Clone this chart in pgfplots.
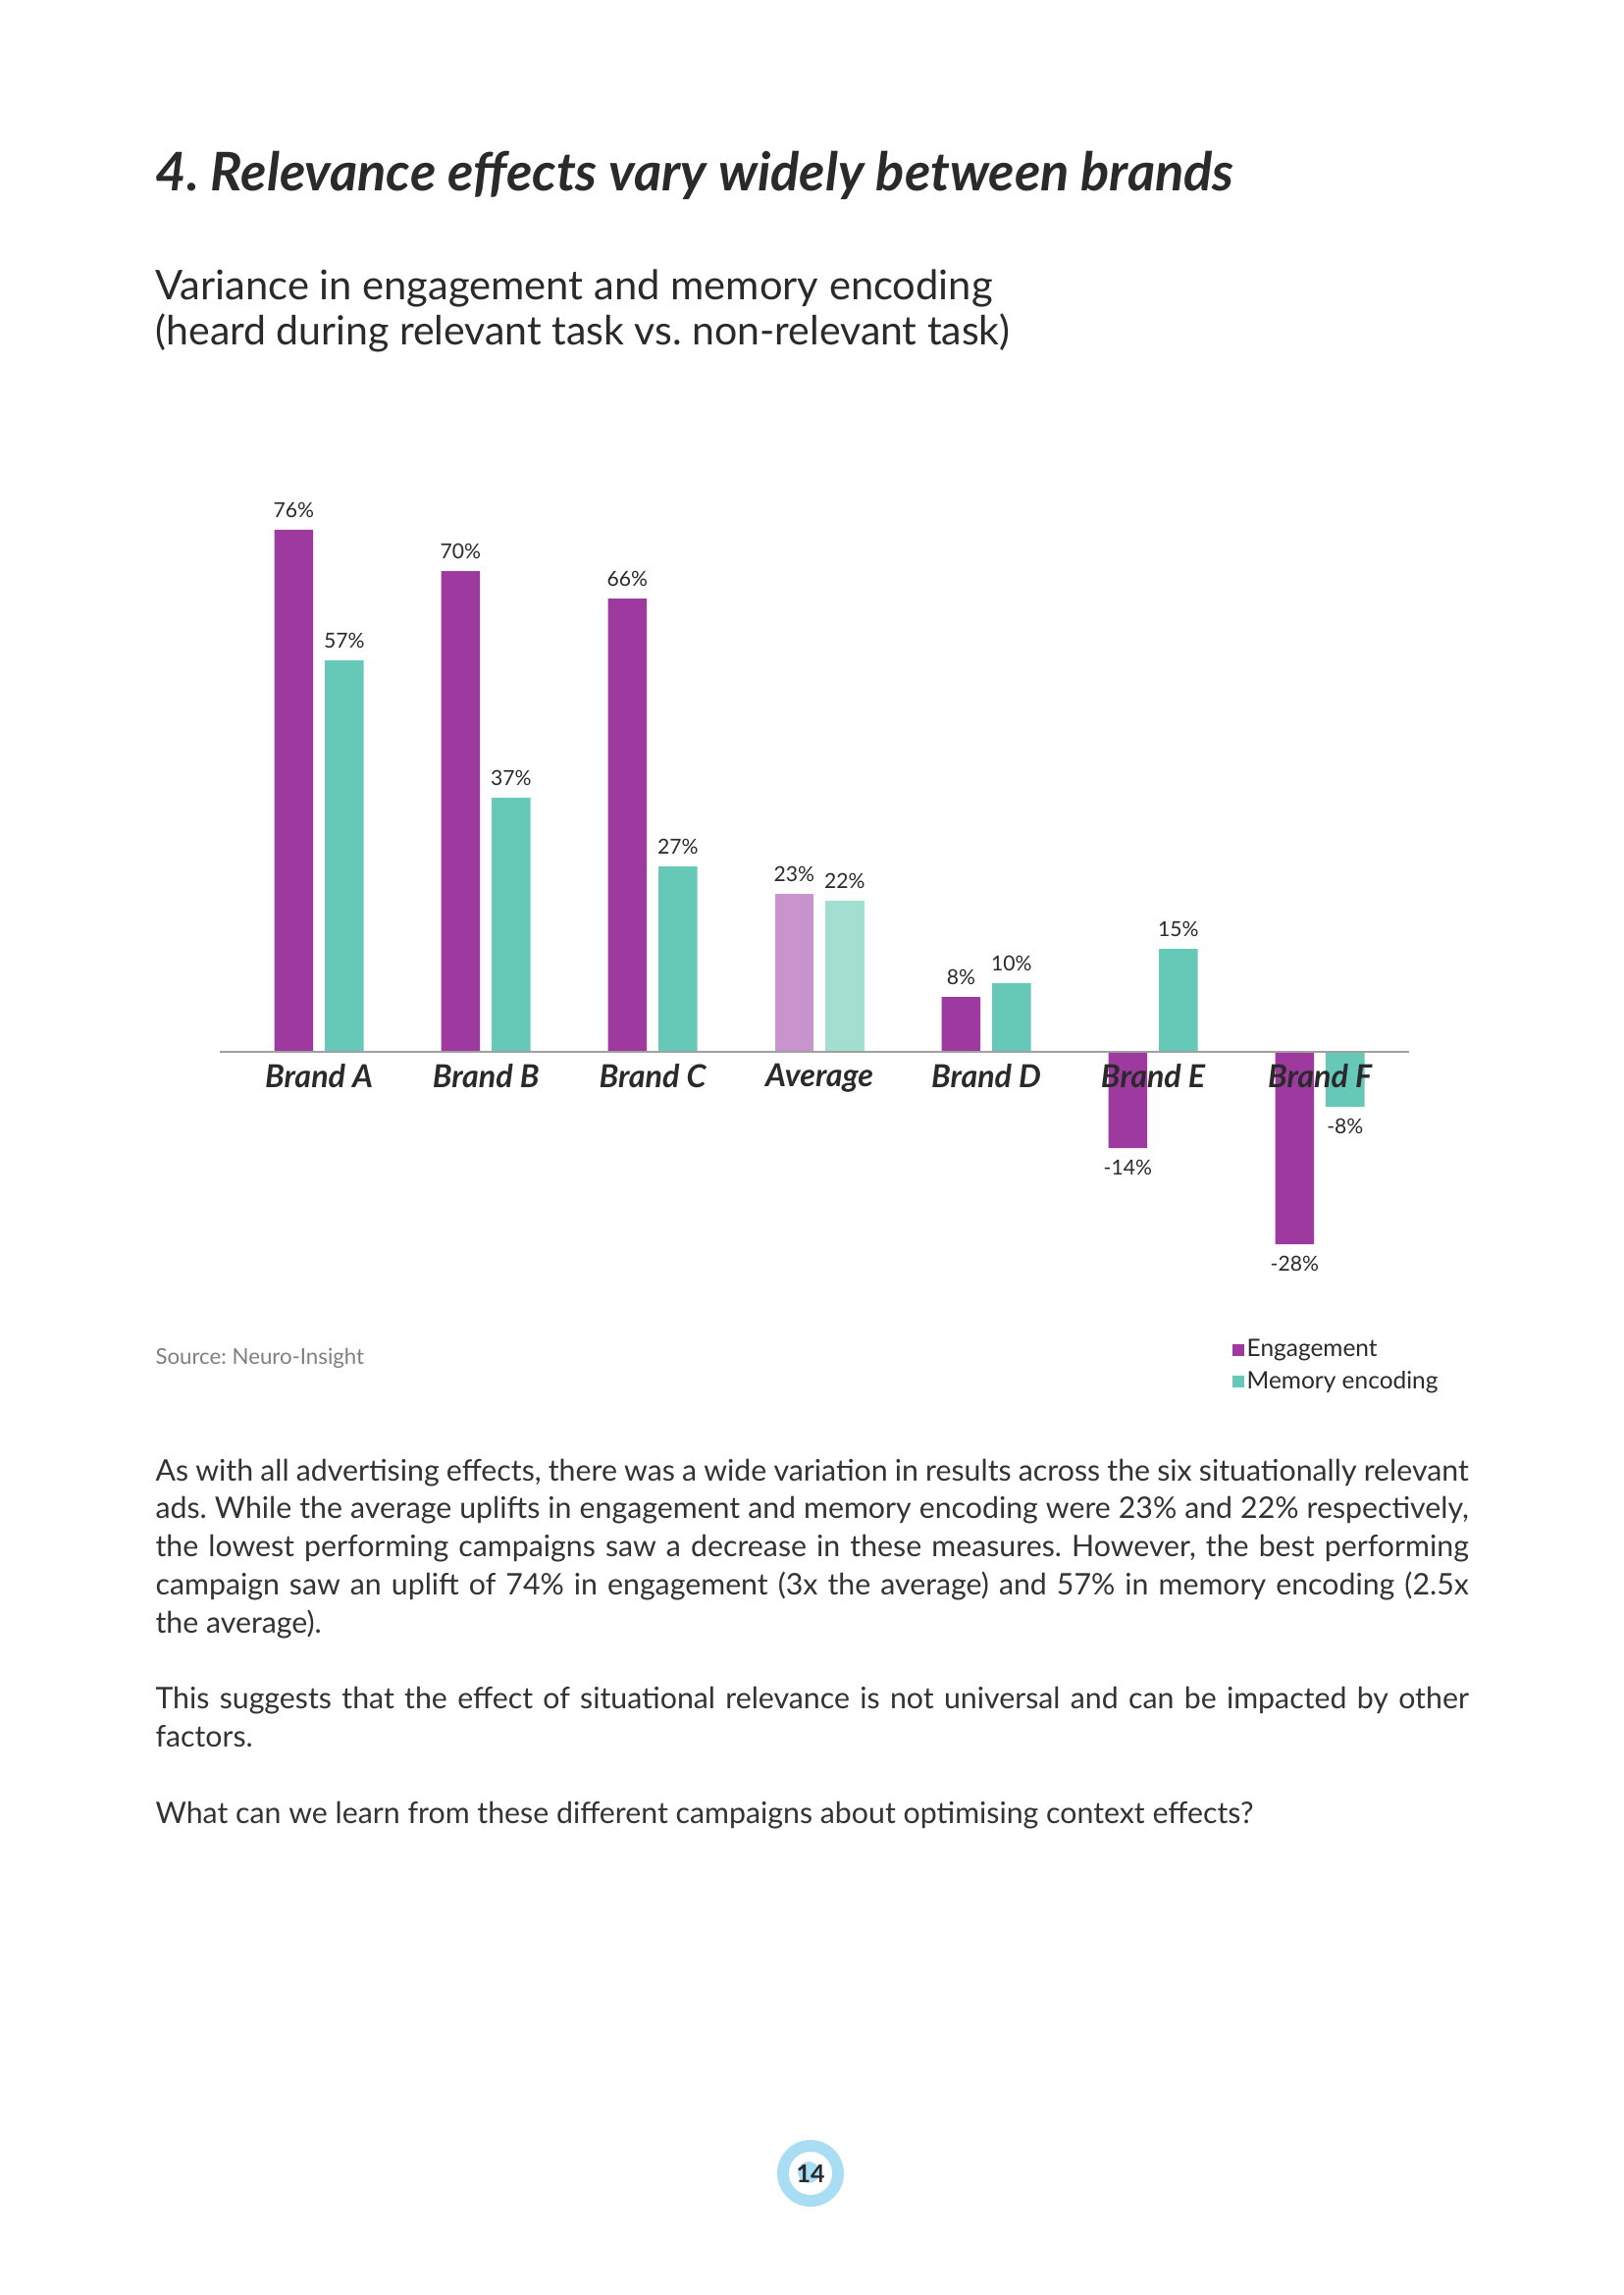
\documentclass[border=0pt]{standalone}
\usepackage{fontspec}
\setmainfont{Lato}
\usepackage{pgfplots}
\pgfplotsset{compat=1.18}
\definecolor{eng}{HTML}{9E3A9F}
\definecolor{mem}{HTML}{66C9B8}
\definecolor{engl}{HTML}{C993CE}
\definecolor{meml}{HTML}{A3DFD0}
\definecolor{txt}{HTML}{2A2A2A}
\definecolor{body}{HTML}{333333}
\definecolor{src}{HTML}{7F7F7F}
\definecolor{ring}{HTML}{A8DDF3}
\begin{document}
\frenchspacing
\begin{tikzpicture}[x=0.35991pt,y=-0.35991pt]
\useasboundingbox[fill=white] (0,0) rectangle (1654,2339);
% title
\node[anchor=base west,inner sep=0,text=txt] at (158,195)
  {\resizebox{395.5pt}{!}{\bfseries\itshape 4. Relevance effects vary widely between brands}};
\node[anchor=base west,inner sep=0,text=txt] at (158,305)
  {\resizebox{307pt}{!}{Variance in engagement and memory encoding}};
\node[anchor=base west,inner sep=0,text=txt] at (158,352)
  {\resizebox{313.5pt}{!}{(heard during relevant task vs. non-relevant task)}};
% source
\node[anchor=base west,inner sep=0,text=src,font=\fontsize{8}{10}\selectfont] at (158,1390) {Source: Neuro-Insight};
% chart
\coordinate (axsw) at (224,1282);
\begin{axis}[
  at={(axsw)}, anchor=south west,
  scale only axis, width=436.21pt, height=277.13pt,
  xmin=-0.595, xmax=6.535, ymin=-30, ymax=80,
  axis x line*=middle, axis y line=none,
  axis line style={draw=gray!75, line width=0.55pt},
  xtick={0,1,2,3,4,5,6},
  xticklabels={Brand A,Brand B,Brand C,Average,Brand D,Brand E,Brand F},
  major tick length=0pt,
  xticklabel style={font=\bfseries\itshape\fontsize{11.6}{13}\selectfont, text=txt, anchor=north, inner sep=0pt, yshift=-4.2pt},
  ytick=\empty,
  ybar, bar width=0.232,
  axis on top, clip=false,
  /pgf/number format/assume math mode=true,
  nodes near coords={\pgfmathprintnumber{\pgfplotspointmeta}\%},
  every node near coord/.append style={font=\fontsize{7.6}{9}\selectfont, text=txt, inner xsep=0pt, inner ysep=4.2pt},
  legend style={at={(0.851,-0.104)}, anchor=north west, draw=none, fill=none,
    font=\fontsize{8.8}{10}\selectfont, text=txt, inner sep=0pt, row sep=1.6pt,
    nodes={inner sep=1pt}},
  legend cell align=left,
]
\addplot[fill=eng, draw=none, bar shift=-0.1515,
  legend image code/.code={\fill[eng] (0pt,-2.2pt) rectangle (4.3pt,2.2pt);}]
  coordinates {(0,76) (1,70) (2,66) (4,8) (5,-14) (6,-28)};
\addlegendentry{Engagement}
\addplot[fill=mem, draw=none, bar shift=0.1515,
  legend image code/.code={\fill[mem] (0pt,-2.2pt) rectangle (4.3pt,2.2pt);}]
  coordinates {(0,57) (1,37) (2,27) (4,10) (5,15) (6,-8)};
\addlegendentry{Memory encoding}
\addplot[fill=engl, draw=none, bar shift=-0.1515, forget plot] coordinates {(3,23)};
\addplot[fill=meml, draw=none, bar shift=0.1515, forget plot] coordinates {(3,22)};
\end{axis}
% body text
\node[anchor=base west,inner sep=0,text=body] at (158,1509) {\parbox[t]{481.6pt}{\fontsize{10.9}{13.96}\selectfont\setlength{\parskip}{13.96pt}%
As with all advertising effects, there was a wide variation in results across the six situationally relevant\linebreak
ads. While the average uplifts in engagement and memory encoding were 23\% and 22\% respectively,\linebreak
the lowest performing campaigns saw a decrease in these measures. However, the best performing\linebreak
campaign saw an uplift of 74\% in engagement (3x the average) and 57\% in memory encoding (2.5x\linebreak
the average).\par
This suggests that the effect of situational relevance is not universal and can be impacted by other\linebreak
factors.\par
What can we learn from these different campaigns about optimising context effects?}};
% page number
\fill[ring] (826,2215) circle[radius=34];
\fill[white] (826,2215) circle[radius=22];
\fill[ring] (824,2214) circle[radius=11];
\node[font=\bfseries\fontsize{9}{10}\selectfont,text=txt] at (826,2215) {14};
\end{tikzpicture}
\end{document}
